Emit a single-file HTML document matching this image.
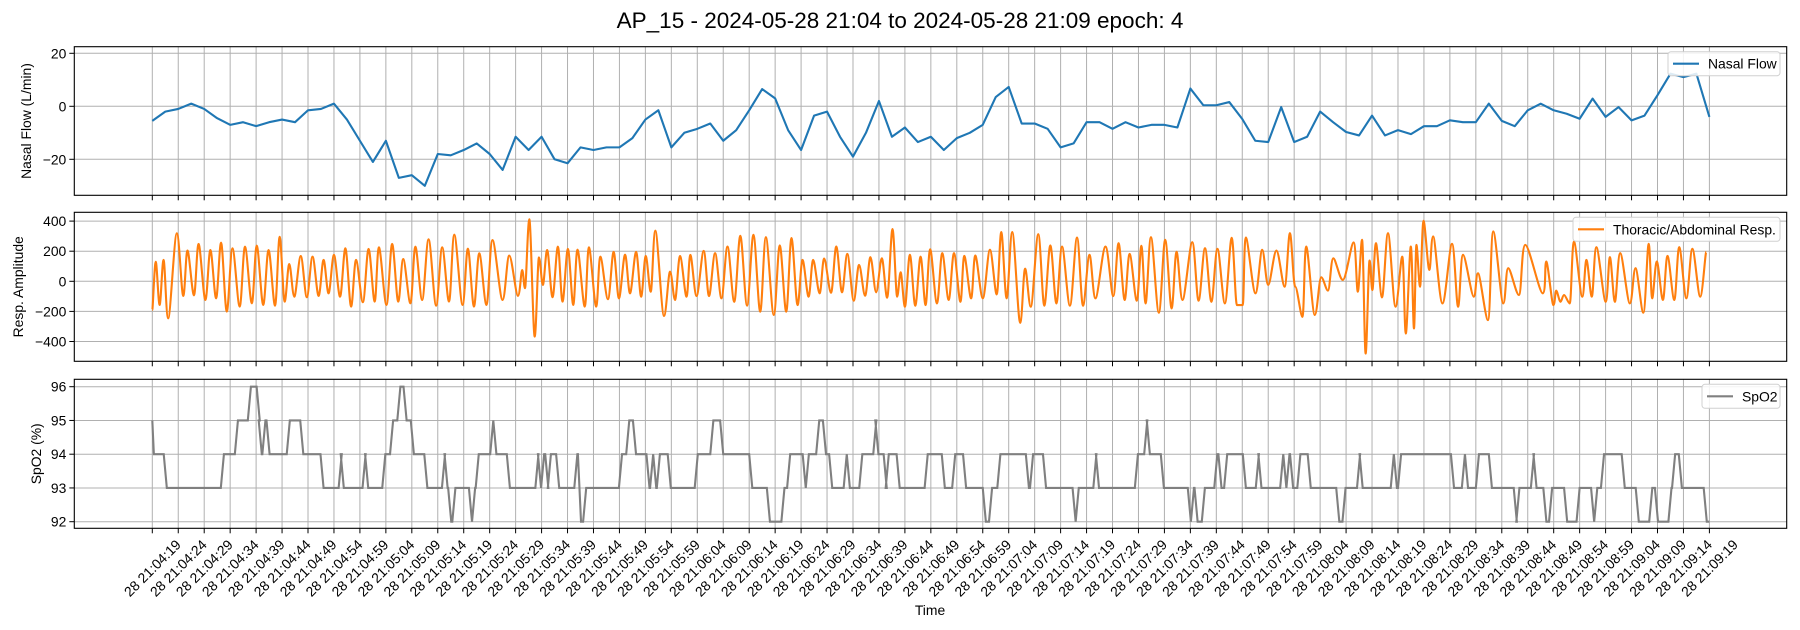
<!DOCTYPE html>
<html><head><meta charset="utf-8"><style>
html,body{margin:0;padding:0;background:#fff;}
svg{display:block;font-family:"Liberation Sans","DejaVu Sans",sans-serif;}
</style></head><body>
<svg id="chart" width="1800" height="630" viewBox="0 0 1800 630" xmlns="http://www.w3.org/2000/svg">
<rect width="1800" height="630" fill="#fff"/>
<text x="900" y="28" font-size="22.5" text-anchor="middle" fill="#000">AP_15 - 2024-05-28 21:04 to 2024-05-28 21:09 epoch: 4</text>
<g id="g1"></g><g id="g2"></g><g id="g3"></g>
<text x="930" y="615" font-size="13.9" text-anchor="middle">Time</text>
</svg>
<script>
// ---- data ----
const startLabel = [21, 4, 19];           // 28 21:04:19
const tickStepSec = 5;
const tickCount = 61;
const nasalStep = 2.5;
const nasalFlow = [-5.5,-2,-1,1,-1,-4.5,-7,-6,-7.5,-6,-5,-6,-1.5,-1,1,-5,-13,-21,-13,-27,-26,-30,-18,-18.5,-16.5,-14,-18,-24,-11.5,-16.5,-11.5,-20,-21.5,-15.5,-16.5,-15.5,-15.5,-12,-5,-1.5,-15.5,-10,
-8.5,-6.5,-13,-9,-1.5,6.5,3,-9,-16.5,-3.5,-2,-11.5,-19,-10,2,-11.5,-8,-13.5,-11.5,-16.5,-12,-10,-7,3.5,7.3,-6.5,-6.5,-8.5,-15.5,-14,-6,-6,-8.5,-6,-8,-7,-7,-8,6.7,0.4,0.4,1.6,
-4.8,-13,-13.5,-0.3,-13.5,-11.5,-2,-6,-9.7,-11,-3.5,-11,-9,-10.5,-7.5,-7.5,-5.3,-6,-6,1,-5.5,-7.5,-1.5,1,-1.5,-2.8,-4.7,2.9,-4,-0.3,-5.3,-3.5,4.2,12.3,11,12.3,-4];
const respPeakT = [0.66,2.17,4.72,6.78,8.92,11.19,13.25,15.45,17.86,20.13,22.4,24.54,26.39,28.6,30.87,33,35,37.2,39.26,41.67,43.67,46.21,48.35,50.69,53.23,55.85,58.19,60.8,63,65.55,68.78,71.26,72.64,74.5,76.08,78.14,80.07,81.93,84.13,86.33,88.88,91.08,93.21,95.07,96.93,99.75,101.68,103.67,
106.23,108.43,110.82,113.29,115.82,118.22,120.89,123.15,125.28,127.33,129.45,131.78,133.91,136.17,138.36,140.55,142.61,144.18,145.96,148.02,149.87,152.2,154.46,156.45,158.57,161.38,163.57,165.69,168.16,170.69,173.02,175.28,178.16,180.56,183.64,186.17,188.3,190.56,192.41,195.15,197.34,200.36,202.82,205.22,207.96,210.7,
213.84,216.58,219.18,222.33,225.21,227.54,231.44,233.08,234.52,235.76,238.08,240.82,242.47,243.56,244.93,246.78,250.41,252.54,255.42,258.36,261.24,264.53,268.57,270.49,272,273.91,276.31,278.23,280.83,282.82,285.76,288.3,289.87,291.93,294.19,296.72,299.39];
const respPeakV = [130,142,319,204,248,208,257,219,230,237,208,296,115,168,164,142,175,219,142,215,226,248,148,230,279,226,310,217,186,274,171,75,412,159,208,230,215,210,226,164,195,177,195,168,336,64,168,175,
202,187,231,302,309,293,238,287,142,142,151,231,182,109,160,153,347,60,176,164,213,187,187,169,171,209,327,327,84,313,238,231,291,176,231,253,182,236,293,276,196,260,220,216,289,291,
209,204,320,231,27,153,258,276,138,253,320,164,231,242,402,298,249,176,53,331,87,242,131,-62,-91,264,142,227,160,187,87,249,131,169,227,216,195];
const respTroughT = [0,1.41,3.07,5.96,8.02,10.22,12.29,14.35,16.83,19.17,21.37,23.64,25.5,27.36,29.77,32.04,33.96,36.17,38.3,40.57,42.84,45.11,47.38,49.72,51.99,54.68,57.16,59.77,61.97,64.38,67.48,70.44,71.81,73.67,75.25,77.11,79.04,81.1,83.31,85.51,87.78,89.91,92.04,94.18,96.03,98.58,100.71,102.92,
104.86,107.26,109.66,112.12,114.59,117.12,119.73,122.13,124.32,126.44,128.56,130.76,132.88,135.14,137.33,139.46,141.58,143.5,145.01,147,148.98,151.17,153.43,155.69,157.75,160.01,162.68,164.6,167.2,169.26,171.86,174.19,176.79,179.32,181.72,185.14,187.34,189.67,191.38,193.92,196.38,198.5,201.58,204.05,206.65,208.98,
210.07,212.53,215,218.15,220.21,221.58,223.97,226.51,229.38,232.26,233.77,235.07,236.92,239.52,241.51,243.08,244.25,246.03,248.57,251.58,254.59,257.33,260.28,263.29,267.88,269.94,271.31,273.09,275.49,277.34,280.01,281.79,284.67,287.27,288.98,291.04,293.23,295.56,298.23];
const respTroughV = [-190,-157,-246,-97,-93,-124,-113,-201,-168,-146,-157,-162,-135,-102,-106,-97,-80,-102,-168,-139,-135,-157,-135,-146,-124,-162,-135,-157,-168,-157,-124,-97,-46,-367,-24,-106,-135,-157,-168,-168,-119,-113,-80,-102,-69,-230,-124,-102,
-98,-98,-113,-136,-162,-202,-224,-202,-158,-102,-80,-76,-73,-129,-96,-73,-109,-102,-169,-162,-158,-147,-124,-136,-113,-113,-87,-113,-276,-169,-162,-147,-162,-162,-113,-98,-124,-129,-147,-209,-180,-124,-129,-136,-147,-158,
-158,-80,-24,-36,-36,-236,-224,-62,9,-69,-480,-58,-107,-169,-347,-313,-36,76,-147,-169,-102,-258,-147,-91,-80,-158,-136,-147,-102,-102,-136,-136,-147,-209,-113,-124,-124,-113,-102];
const spo2Start = 95;
const spo2T = [0.3,2.8,13.8,16.5,19,20.7,21.1,21.8,22.6,26.5,29.1,33,36.5,36.9,41.1,41.6,44.9,46.4,47.8,49,50.4,53,56.4,56.9,57.6,58.4,61.6,62.2,62.9,65.7,66.3,68.9,74.4,74.9,75.5,76.3,76.8,78.4,81.9,82.6,83.6,90.5,91.9,93.2,95.8,96.5,97.1,97.8,99.9,105.1,108.1,110,115.6,119,121.8,122.9,125.9,126.5,128.5,129.8,131,133.8,134.4,136.8,139.5,139.9,141.5,141.9,144,149.4,152.7,154.7,156.8,160.6,161.8,163.4,168.9,169.7,172.2,177.9,178.5,181.9,182.4,189.9,191.7,192.2,194.9,200.1,200.7,201.4,202.8,205.2,206,207.1,210.7,213.2,213.7,217.9,218.5,219.1,219.8,221.2,223.2,228.7,229.9,232.7,233.2,239.2,239.8,240.6,250.8,252.9,253.5,255.6,258.1,262.9,263.4,266.2,266.7,268.6,269.7,272.6,275,277.8,278.4,279.7,283.7,286.4,289,290.1,292.7,293.4,294.7,299.5];
const spo2V = [94,93,94,95,96,95,94,95,94,95,94,93,94,93,94,93,94,95,96,95,94,93,94,93,92,93,92,93,94,95,94,93,94,93,94,93,94,93,94,92,93,94,95,94,93,94,93,94,93,94,95,94,93,92,93,94,93,94,95,94,93,94,93,94,95,94,93,94,93,94,93,94,93,92,93,94,93,94,93,92,93,94,93,94,95,94,93,92,93,92,93,94,93,94,93,94,93,94,93,94,93,94,93,92,93,94,93,94,93,94,93,94,93,94,93,92,93,94,93,92,93,92,93,92,93,94,93,92,93,92,93,94,93,92];
const nasalTicks = [20,0,-20];
const respTicks = [400,200,0,-200,-400];
const spo2Ticks = [96,95,94,93,92];

// ---- layout / scales ----
const NS="http://www.w3.org/2000/svg";
const AX_L=74.3, AX_R=1786.7, T0X=152.3, PXS=(1709.4-152.3)/300;
const x = t => T0X + t*PXS;
const panels = [
 {g:'g1', top:46.7, bot:195.3, y:v=>106.3 - v*2.65},
 {g:'g2', top:212.3, bot:361.3, y:v=>281.3 - v*0.1505},
 {g:'g3', top:379.3, bot:528.3, y:v=>521.7 - (v-92)*33.75}
];
function el(parent, tag, attrs){const e=document.createElementNS(NS,tag);for(const k in attrs)e.setAttribute(k,attrs[k]);parent.appendChild(e);return e;}
function fmtNum(v){return v<0?'\u2212'+Math.abs(v):String(v);}
function pad(n){return (n<10?'0':'')+n;}
function tickLabel(i){let s=startLabel[0]*3600+startLabel[1]*60+startLabel[2]+i*tickStepSec;return '28 '+pad(Math.floor(s/3600))+':'+pad(Math.floor(s/60)%60)+':'+pad(s%60);}

function drawAxes(p, yticks, ylabel, ylabelX, names){
 const g=document.getElementById(p.g);
 for(let i=0;i<tickCount;i++){
  const gx=x(i*tickStepSec);
  const gl=el(g,'line',{x1:gx,x2:gx,y1:p.top,y2:p.bot,stroke:'#b0b0b0','stroke-width':1});
  
  
  const tk=el(g,'line',{x1:gx,x2:gx,y1:p.bot,y2:p.bot+5,stroke:'#000','stroke-width':1});
  
  
 }
 yticks.forEach(v=>{
  const gy=p.y(v);
  const gl=el(g,'line',{x1:AX_L,x2:AX_R,y1:gy,y2:gy,stroke:'#b0b0b0','stroke-width':1});
  
  
  const tk=el(g,'line',{x1:AX_L-5,x2:AX_L,y1:gy,y2:gy,stroke:'#000','stroke-width':1});
  
  
  const t=el(g,'text',{x:AX_L-8,y:gy+5,'font-size':13.9,'text-anchor':'end'});
  t.textContent=fmtNum(v);
  
  
 });
 const cy=(p.top+p.bot)/2;
 const yl=el(g,'text',{x:ylabelX,y:cy,'font-size':13.9,'text-anchor':'middle','dominant-baseline':'central',transform:`rotate(-90 ${ylabelX} ${cy})`});
 yl.textContent=ylabel;
 
 
}
function frame(p){
 const g=document.getElementById(p.g);
 const r=el(g,'rect',{x:AX_L,y:p.top,width:AX_R-AX_L,height:p.bot-p.top,fill:'none',stroke:'#000','stroke-width':1.1});
 
 
}
function legend(p, label, color, x0, w, name){
 const g=document.getElementById(p.g);
 const lg=el(g,'g',{});
 
 
 el(lg,'rect',{x:x0,y:p.top+5,width:w,height:24,rx:3,fill:'#fff','fill-opacity':0.85,stroke:'#d0d0d0','stroke-width':1});
 el(lg,'line',{x1:x0+5,x2:x0+31,y1:p.top+17,y2:p.top+17,stroke:color,'stroke-width':2.1});
 const t=el(lg,'text',{x:x0+40,y:p.top+22,'font-size':13.9});
 t.textContent=label;
}

drawAxes(panels[0],nasalTicks,'Nasal Flow (L/min)',26,'y-axis-title-nasal');
drawAxes(panels[1],respTicks,'Resp. Amplitude',18,'y-axis-title-resp');
drawAxes(panels[2],spo2Ticks,'SpO2 (%)',36,'y-axis-title-spo2');

// nasal flow
{const p=panels[0];let d='';nasalFlow.forEach((v,i)=>{d+=(i?'L':'M')+x(i*nasalStep).toFixed(2)+' '+p.y(v).toFixed(2);});
 const path=el(document.getElementById(p.g),'path',{d:d,fill:'none',stroke:'#1f77b4','stroke-width':2.1,'stroke-linejoin':'round'});
 
 }
// resp
{const p=panels[1];
 const pts=[];respPeakT.forEach((t,i)=>pts.push([t,respPeakV[i]]));respTroughT.forEach((t,i)=>pts.push([t,respTroughV[i]]));
 pts.sort((a,b)=>a[0]-b[0]);
 const P=pts.map(q=>[x(q[0]),p.y(q[1])]);
 let d='M'+P[0][0].toFixed(2)+' '+P[0][1].toFixed(2);
 for(let i=0;i<P.length-1;i++){const p0=P[Math.max(0,i-1)],p1=P[i],p2=P[i+1],p3=P[Math.min(P.length-1,i+2)];
  const c1=[p1[0]+(p2[0]-p0[0])/6,p1[1]];const c2=[p2[0]-(p3[0]-p1[0])/6,p2[1]];
  d+=`C${c1[0].toFixed(2)} ${c1[1].toFixed(2)} ${c2[0].toFixed(2)} ${c2[1].toFixed(2)} ${p2[0].toFixed(2)} ${p2[1].toFixed(2)}`;}
 const path=el(document.getElementById(p.g),'path',{d:d,fill:'none',stroke:'#ff7f0e','stroke-width':2.1});
 
 }
// spo2
{const p=panels[2];let prev=spo2Start;let d='M'+x(0).toFixed(2)+' '+p.y(prev).toFixed(2);
 spo2T.forEach((t,i)=>{d+='L'+x(Math.max(0,t-0.6)).toFixed(2)+' '+p.y(prev).toFixed(2)+'L'+x(t).toFixed(2)+' '+p.y(spo2V[i]).toFixed(2);prev=spo2V[i];});
 d+='L'+x(300).toFixed(2)+' '+p.y(prev).toFixed(2);
 const path=el(document.getElementById(p.g),'path',{d:d,fill:'none',stroke:'#808080','stroke-width':2.1});
 
 }

panels.forEach(frame);
legend(panels[0],'Nasal Flow','#1f77b4',1668,112,'legend-nasal-flow');
legend(panels[1],'Thoracic/Abdominal Resp.','#ff7f0e',1573,207,'legend-resp');
legend(panels[2],'SpO2','#808080',1702,78,'legend-spo2');

// x tick labels (bottom panel)
{const g=document.getElementById('g3');
 for(let i=0;i<tickCount;i++){const tx=x(i*tickStepSec),ty=568;
  const t=el(g,'text',{x:tx,y:ty,'font-size':13.9,'text-anchor':'middle','dominant-baseline':'central',transform:`rotate(-45 ${tx} ${ty})`});
  t.textContent=tickLabel(i);
  
  }}
</script>
</body></html>
